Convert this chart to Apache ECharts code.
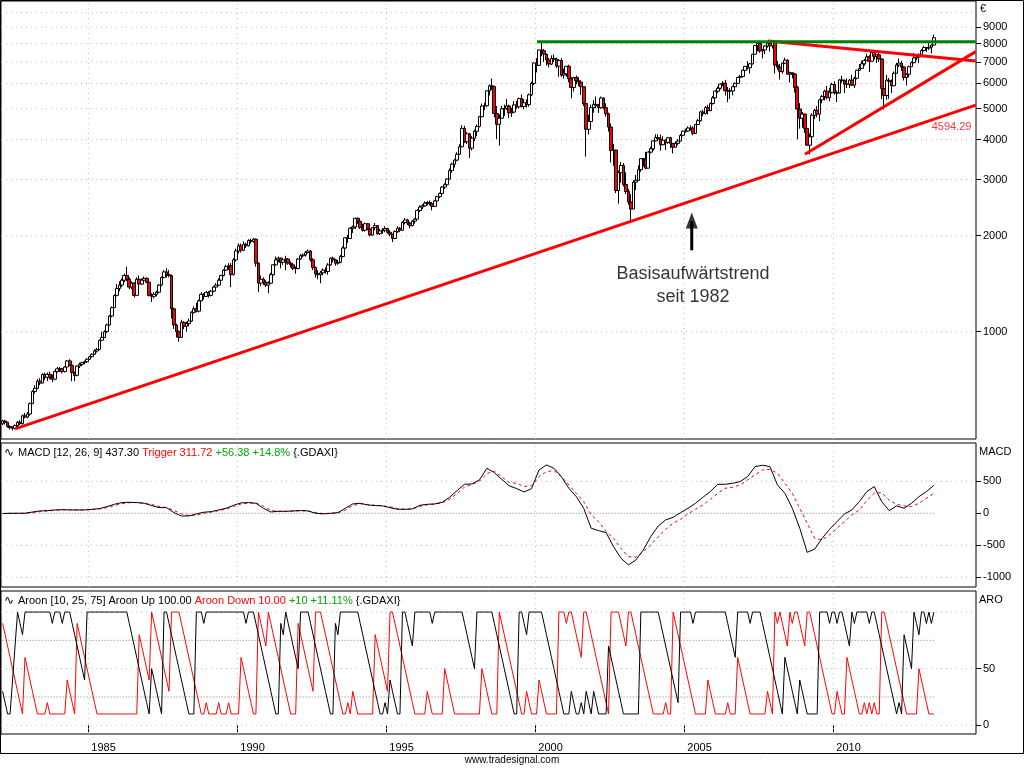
<!DOCTYPE html>
<html><head><meta charset="utf-8">
<script src="https://cdn.jsdelivr.net/npm/echarts@6/dist/echarts.min.js"></script>
<style>html,body{margin:0;padding:0;background:#fff}#c{width:1024px;height:768px}</style>
</head><body><div id="c"></div>
<script>
// ---------- DATA (monthly bars, first bar = Feb 1982) ----------
const startYear = 1982, startMonth = 2;
const firstOpen = 515;
const closes = [
525,520,505,500,498,508,520,515,545,540,552,
595,650,665,700,690,735,720,735,720,710,750,765,
765,750,775,810,785,745,730,780,790,800,805,820,
835,850,870,880,940,960,1000,1050,1120,1190,1300,1366,
1400,1450,1500,1460,1380,1420,1300,1460,1410,1450,1470,1430,
1300,1290,1310,1330,1400,1480,1540,1510,1500,1180,1050,1000,
960,1070,1040,1060,1080,1150,1180,1160,1250,1310,1290,1328,
1300,1340,1380,1400,1450,1500,1560,1600,1610,1510,1680,1790,
1860,1800,1880,1860,1930,1920,1950,1640,1420,1460,1430,1400,
1420,1510,1620,1680,1700,1650,1680,1690,1640,1620,1580,1578,
1690,1730,1740,1770,1790,1680,1590,1520,1510,1530,1560,1545,
1620,1700,1680,1640,1650,1720,1830,1970,1960,2110,2130,2267,
2220,2120,2080,2180,2100,2010,2120,2150,2030,2070,2080,2107,
2050,2020,1960,2060,2110,2080,2200,2240,2190,2150,2220,2254,
2400,2460,2480,2530,2540,2520,2470,2570,2650,2710,2840,2889,
3010,3200,3350,3450,3600,3800,4340,3940,4170,3760,4040,4250,
4400,4720,5100,5110,5690,5900,5870,4830,4470,4670,5000,5002,
5100,4850,4880,5140,5070,5380,5080,5220,5150,5530,6000,6958,
6840,7640,7600,7410,7110,6900,7190,7150,6800,7080,6370,6434,
6795,6210,5830,6260,6120,6060,5860,5190,4310,4560,5040,5160,
5110,5040,5400,5040,4820,4380,3700,3710,2770,3150,3320,2893,
2750,2550,2424,2942,2982,3221,3487,3485,3257,3655,3745,3965,
4060,4018,3857,3985,3921,4052,3895,3786,3893,3960,4126,4256,
4255,4350,4349,4185,4460,4586,4886,4829,5044,4929,5193,5408,
5674,5796,5970,6009,5692,5683,5682,5860,6004,6268,6309,6597,
6789,6716,6917,7409,7884,8007,7584,7638,7862,8019,7871,8067,
6851,6748,6535,6949,7097,6418,6479,6422,5831,4988,4669,4810,
4338,3843,4085,4770,4941,4809,5332,5458,5675,5415,5625,5957,
5608,5598,6154,6136,5965,5966,6148,5925,6229,6601,6688,6914,
7077,7273,7041,7514,7294,7376,7159,5785,5502,6141,6089,5898,
6458,6856,6947,6761,6264,6416,6772,6970,7216,7260,7405,7612,
7776,7741,7795,7914,8348];
const highs = [
530,530,522,508,505,512,525,528,550,556,560,
600,655,680,710,715,740,745,745,750,735,755,775,
775,770,780,815,820,790,750,785,800,805,812,825,
840,855,880,890,945,1000,1010,1060,1130,1200,1310,1410,
1440,1470,1520,1600,1480,1440,1430,1480,1500,1470,1490,1480,
1440,1320,1330,1345,1410,1490,1560,1580,1560,1510,1190,1060,
1010,1090,1080,1075,1100,1160,1200,1230,1260,1330,1320,1340,
1340,1350,1390,1420,1470,1510,1570,1620,1640,1640,1700,1820,
1890,1890,1920,1900,1950,1960,1966,1960,1650,1500,1480,1450,
1440,1530,1630,1720,1720,1710,1700,1730,1700,1660,1640,1600,
1700,1750,1760,1790,1810,1800,1700,1600,1560,1550,1580,1590,
1640,1710,1720,1690,1680,1740,1850,1980,2010,2130,2150,2280,
2280,2230,2180,2200,2190,2110,2130,2190,2150,2100,2110,2140,
2120,2080,2030,2080,2140,2130,2220,2270,2260,2210,2240,2270,
2420,2490,2510,2560,2570,2580,2540,2590,2670,2730,2860,2920,
3030,3250,3390,3480,3650,3870,4440,4420,4220,4200,4100,4300,
4460,4750,5190,5220,5720,5960,6220,5900,5100,4800,5100,5150,
5360,5150,5030,5280,5290,5420,5540,5360,5350,5580,6070,6990,
7200,7680,8136,7700,7450,7220,7350,7400,7230,7150,7200,6670,
6800,6870,6280,6300,6350,6280,6080,5870,5260,4790,5150,5320,
5460,5180,5460,5420,5200,4860,4500,3880,3720,3200,3400,3380,
3160,2800,2700,2980,3100,3320,3490,3500,3660,3680,3800,3990,
4160,4160,4150,4100,4010,4080,4080,3900,3950,4020,4170,4270,
4330,4400,4430,4400,4480,4650,4920,4960,5100,5140,5230,5480,
5720,5870,6000,6100,6160,5850,5800,5900,6040,6290,6380,6630,
6810,7040,6940,7410,7900,8090,8150,7700,7900,8030,8030,8100,
8100,7060,6910,6960,7230,7150,6540,6500,6480,5900,5210,4880,
4830,4600,4180,4840,5000,5100,5360,5520,5740,5890,5820,6030,
6100,5700,6200,6340,6170,6220,6200,6390,6300,6620,6900,7080,
7160,7440,7360,7530,7600,7400,7500,7190,5900,6380,6240,6170,
6540,6960,7190,7060,6800,6460,6830,7030,7480,7400,7440,7680,
7870,7810,8060,7940,8530];
const lows = [
510,512,500,494,490,495,500,510,512,535,535,
545,595,640,660,680,690,705,700,710,695,705,745,
748,740,745,770,780,700,700,725,770,780,790,798,
815,830,845,860,875,935,955,990,1045,1110,1185,1290,
1340,1380,1430,1440,1360,1360,1280,1300,1390,1400,1440,1420,
1290,1240,1270,1290,1320,1390,1470,1480,1480,1100,1020,960,
930,955,1020,1000,1040,1075,1140,1150,1150,1245,1260,1285,
1280,1290,1330,1370,1390,1440,1490,1550,1560,1380,1500,1660,
1760,1770,1790,1830,1850,1890,1900,1600,1330,1390,1400,1380,
1320,1410,1500,1610,1650,1580,1620,1560,1620,1590,1560,1520,
1570,1680,1710,1720,1760,1660,1560,1480,1460,1420,1500,1520,
1510,1610,1650,1610,1620,1640,1710,1820,1900,1950,2040,2100,
2180,2100,2060,2060,2080,1990,2000,2080,2010,2010,2030,2050,
2030,1990,1910,1950,2040,2050,2070,2170,2160,2110,2140,2180,
2250,2370,2420,2460,2490,2490,2400,2460,2560,2620,2700,2800,
2860,3000,3150,3270,3420,3580,3780,3900,3880,3500,3700,3960,
4100,4370,4700,4950,5070,5500,5720,4700,4020,3830,4650,4750,
4960,4680,4710,4850,5000,5010,5050,4980,5040,5070,5480,5930,
6500,6800,7300,7000,6830,6740,6850,7000,6700,6300,6300,6210,
6300,6050,5390,5660,5960,5880,5520,5100,3540,4150,4460,4860,
5020,4850,5000,4980,4720,4240,3390,3310,2720,2520,2930,2850,
2700,2500,2189,2420,2780,2970,3170,3290,3230,3250,3620,3700,
3950,3960,3690,3840,3710,3880,3760,3620,3780,3840,3950,4100,
4200,4230,4270,4130,4170,4450,4560,4740,4800,4800,4920,5150,
5400,5600,5740,5880,5500,5240,5360,5510,5780,5990,6150,6260,
6530,6630,6440,6870,7380,7560,7490,7190,7420,7770,7560,7720,
6440,6620,6170,6440,6900,6390,6040,6220,5620,4010,4330,4360,
4200,3830,3590,4010,4640,4700,4570,5200,5310,5350,5280,5580,
5540,5250,5590,6040,5600,5800,5800,5890,5810,6180,6570,6680,
6820,7060,6510,7040,7120,6960,7000,5360,4970,5330,5370,5600,
5890,6440,6750,6570,6130,5910,6270,6770,6940,7090,6950,7390,
7560,7530,7640,7460,7900];

// MACD read every 3rd monthly bar
const macdStep = 3;
const macdValues = [-5,0,0,0,20,36,42,52,57,52,52,52,62,73,104,140,167,172,167,156,120,88,88,
10,-42,-42,-10,16,26,52,78,125,162,167,156,78,20,31,31,36,42,36,0,-10,0,10,78,146,156,130,120,115,88,62,62,68,125,140,146,172,250,354,453,458,521,703,635,531,430,
385,333,385,677,755,703,573,391,260,78,-234,-271,-302,-521,-703,-807,-729,-573,-365,-198,-104,-63,10,78,156,250,339,453,453,469,495,573,729,750,729,443,313,78,-234,-610,-560,-391,-250,-130,-10,52,182,339,417,182,42,115,78,156,260,339,437];
const triggerValues = [-5,-3,0,0,10,25,35,45,52,54,52,52,56,66,88,120,150,165,168,160,138,105,90,45,-10,-35,-30,0,18,40,65,105,145,160,160,110,45,30,30,34,40,38,12,-5,-5,5,50,120,148,138,125,118,100,75,64,66,105,132,143,162,220,310,410,450,500,620,660,570,480,
469,417,430,573,651,667,573,443,313,182,-26,-130,-287,-391,-547,-677,-687,-599,-495,-365,-250,-156,-94,-10,62,130,219,313,391,406,443,521,599,677,687,625,469,313,78,-156,-391,-417,-339,-234,-130,-26,52,198,313,323,208,140,115,104,156,234,312];

// Aroon (one value per monthly bar)
const aroonUp = [
30,20,10,10,40,70,100,90,80,100,100,100,100,
100,100,100,100,100,100,100,90,100,100,100,90,100,100,100,
90,80,70,60,50,40,
100,100,100,100,100,100,100,100,100,100,100,100,100,100,100,100,100,
90,80,70,60,50,40,30,20,10,50,40,30,20,10,100,100,
90,80,70,60,50,40,30,20,10,10,10,100,100,100,90,
100,100,100,100,100,100,100,100,100,100,100,100,100,100,100,100,
90,100,100,100,90,80,70,60,50,40,30,20,10,10,90,80,100,
90,80,70,60,50,100,100,100,100,90,80,70,60,50,40,30,20,10,10,90,80,
100,100,100,100,100,100,100,100,90,80,70,60,50,40,30,20,10,10,
20,10,40,30,20,10,10,100,100,90,80,70,100,100,100,100,100,100,100,90,
100,100,100,100,100,100,100,100,100,100,100,100,90,80,70,60,50,
100,100,100,100,100,100,100,90,80,70,60,50,40,30,20,10,10,100,100,90,80,
100,100,100,100,100,100,90,80,70,60,50,40,30,20,10,10,10,
30,20,10,10,20,10,30,20,10,30,20,10,10,10,10,
70,60,50,40,30,20,10,10,10,10,10,10,10,
100,100,100,100,100,100,100,100,90,80,70,60,50,40,30,20,
100,100,100,100,100,90,100,100,100,100,100,100,100,100,100,100,100,100,100,
90,80,70,60,100,100,100,100,100,90,100,100,100,100,
90,80,70,60,50,40,30,20,10,60,50,40,30,20,10,40,30,20,10,10,10,10,10,
100,100,100,100,90,100,100,90,100,100,90,80,70,100,90,100,100,100,100,100,90,100,100,
90,80,70,60,50,40,30,20,10,20,10,80,70,60,50,100,90,80,100,100,90,100,90,100];
const aroonDown = [
90,80,70,60,50,40,30,20,10,60,50,40,30,20,10,
10,10,10,20,10,10,10,10,10,10,10,40,30,20,10,
90,80,70,60,50,40,30,20,10,
10,10,10,10,10,10,10,10,10,10,10,10,10,10,10,10,
80,70,60,50,40,100,90,80,70,60,50,40,30,100,100,100,100,
90,80,70,60,50,40,30,20,10,10,20,10,10,10,10,20,10,10,10,20,10,10,10,10,
60,50,40,30,20,10,10,100,90,80,70,100,90,80,70,60,50,40,30,20,10,10,10,
90,80,70,60,50,40,30,100,100,100,90,80,70,60,50,40,30,20,10,10,20,10,30,20,10,
10,10,10,10,10,10,80,70,60,50,40,30,100,100,90,80,70,60,50,40,30,20,10,
10,10,10,10,30,20,10,10,10,10,10,50,40,30,20,10,
10,10,10,10,10,10,10,10,10,10,50,40,30,20,10,10,10,
100,90,80,70,60,50,40,30,20,10,10,30,20,10,10,10,40,30,20,10,10,10,10,10,
100,100,100,90,100,100,90,80,70,60,100,100,90,80,70,60,50,40,30,20,10,
100,100,100,100,90,80,70,100,100,90,80,70,60,50,40,30,20,10,
10,10,10,10,20,10,10,100,90,80,70,60,50,40,30,20,10,
10,10,10,10,40,30,20,10,10,10,10,10,20,10,10,10,60,50,40,30,20,10,
10,10,10,10,10,10,30,20,10,100,90,100,90,80,70,100,90,100,100,90,80,70,100,100,
90,80,70,60,50,40,30,20,10,10,30,20,10,10,60,50,40,30,20,10,10,20,10,20,10,20,10,10,
100,100,90,80,70,60,50,40,30,20,10,10,10,10,10,50,40,30,20,10,10,10];

// ticks / levels
const priceTicks = [1000,2000,3000,4000,5000,6000,7000,8000,9000];
const priceGrid = [1000,2000,3000,4000,5000,6000,7000,8000,9000,10000];
const macdTicks = [-1000,-500,0,500];
const macdGrid = [-1000,-500,500];
const aroonTicks = [0,50];
const aroonGrid = [0,50,100];
const aroonLevels = [25,75];
const yearTicks = [1985,1990,1995,2000,2005,2010];

// drawn lines (date, price)
const baseTrend = [[1982.54,496],[2014.78,5130]];
const supportTrend = [[2009.05,3598],[2014.78,7548]];
const resistTrend = [[2007.81,8152],[2014.78,7057]];
const topLine = [[2000.06,8111],[2014.78,8111]];
const trendValueLabel = {t:2013.97, v:4383, text:'4594.29'};
const noteText = {t:2005.29, v:1396, text:'Basisaufwärtstrend\nseit 1982'};
const arrowPts = {t:2005.25, from:1801, to:2225, head:2232};

// ---------- BUILD ----------
const FONT = '"Liberation Sans", Arial, sans-serif';
const X_MIN = 1982.07, X_MAX = 2014.789;
const Y0 = [461, 10880], Y1 = [-1152, 1098], Y2 = [-7.7, 118.6];
const monthT = i => startYear + (startMonth - 1 + i) / 12 + 1 / 24;
if (highs.length !== closes.length || lows.length !== closes.length) throw new Error('len ' + closes.length + ' ' + highs.length + ' ' + lows.length);
if (macdValues.length !== triggerValues.length) throw new Error('macd len ' + macdValues.length + ' ' + triggerValues.length);
if (aroonUp.length !== closes.length || aroonDown.length !== closes.length) throw new Error('aroon len ' + aroonUp.length + ' ' + aroonDown.length);

const candles = closes.map((c, i) => [monthT(i), i ? closes[i - 1] : firstOpen, c, lows[i], highs[i]]);
const lastT = monthT(closes.length - 1), firstT = monthT(0);

const gridStyle = {color: '#bdbdbd', width: 1, type: [1, 4]};
const levelStyle = {color: '#808080', width: 1, type: [1, 2]};
const series = [];
function seg(g, pts, style, z) {
  series.push({type: 'line', xAxisIndex: g, yAxisIndex: g, data: pts, symbol: 'none', silent: true,
    lineStyle: style, z: z || 1, animation: false});
}
priceGrid.forEach(v => seg(0, [[X_MIN, v], [X_MAX, v]], gridStyle));
macdGrid.forEach(v => seg(1, [[X_MIN, v], [X_MAX, v]], gridStyle));
aroonGrid.forEach(v => seg(2, [[X_MIN, v], [X_MAX, v]], gridStyle));
yearTicks.forEach(y => {
  seg(0, [[y, Y0[0]], [y, Y0[1]]], gridStyle);
  seg(1, [[y, Y1[0]], [y, Y1[1]]], gridStyle);
  seg(2, [[y, Y2[0]], [y, Y2[1]]], gridStyle);
});
seg(1, [[firstT, 0], [lastT, 0]], levelStyle);
aroonLevels.forEach(v => seg(2, [[firstT, v], [lastT, v]], levelStyle));

series.push({type: 'candlestick', xAxisIndex: 0, yAxisIndex: 0, data: candles, barWidth: 3.2, z: 3,
  itemStyle: {color: '#ffffff', color0: '#ff0000', borderColor: '#000', borderColor0: '#000', borderWidth: 1}, silent: true});

const red3 = {color: '#ff0000', width: 3};
seg(0, baseTrend, red3, 5);
seg(0, supportTrend, red3, 5);
seg(0, resistTrend, red3, 5);
seg(0, topLine, {color: '#008000', width: 3}, 5);

// arrow
seg(0, [[arrowPts.t, arrowPts.from], [arrowPts.t, arrowPts.to]], {color: '#000', width: 3}, 6);
series.push({type: 'scatter', xAxisIndex: 0, yAxisIndex: 0, data: [[arrowPts.t, arrowPts.head]], symbol: 'triangle',
  symbolSize: [12, 16], itemStyle: {color: '#000'}, z: 6, silent: true});
// texts anchored to data
series.push({type: 'scatter', xAxisIndex: 0, yAxisIndex: 0, data: [[noteText.t, noteText.v]], symbolSize: 0, silent: true, z: 6,
  label: {show: true, position: 'inside', formatter: noteText.text, fontSize: 18, lineHeight: 23, color: '#000', fontFamily: FONT, align: 'center'}});
series.push({type: 'scatter', xAxisIndex: 0, yAxisIndex: 0, data: [[trendValueLabel.t, trendValueLabel.v]], symbolSize: 0, silent: true, z: 6,
  label: {show: true, position: 'inside', formatter: trendValueLabel.text, fontSize: 11, color: '#ff0000', fontFamily: FONT}});

// MACD
series.push({type: 'line', xAxisIndex: 1, yAxisIndex: 1, symbol: 'none', silent: true, z: 4,
  data: triggerValues.map((v, j) => [monthT(j * macdStep), v]), lineStyle: {color: '#ff0000', width: 1, type: [3, 3]}});
series.push({type: 'line', xAxisIndex: 1, yAxisIndex: 1, symbol: 'none', silent: true, z: 5,
  data: macdValues.map((v, j) => [monthT(j * macdStep), v]), lineStyle: {color: '#000', width: 1}});
// Aroon
series.push({type: 'line', xAxisIndex: 2, yAxisIndex: 2, symbol: 'none', silent: true, z: 4,
  data: aroonDown.map((v, i) => [monthT(i), v]), lineStyle: {color: '#ff0000', width: 1}});
series.push({type: 'line', xAxisIndex: 2, yAxisIndex: 2, symbol: 'none', silent: true, z: 5,
  data: aroonUp.map((v, i) => [monthT(i), v]), lineStyle: {color: '#000', width: 1}});

const lbl = {color: '#000', fontSize: 11, fontFamily: FONT};
function yAx(g, type, ext, ticks) {
  return {type: type, gridIndex: g, position: 'right', min: ext[0], max: ext[1],
    axisLine: {show: false}, splitLine: {show: false},
    axisTick: {show: true, length: 5, lineStyle: {color: '#000'}, customValues: ticks},
    axisLabel: Object.assign({customValues: ticks, margin: 7, formatter: v => String(Math.round(v))}, lbl)};
}
const option = {
  animation: false,
  grid: [
    {left: 1, top: 1, right: 48, height: 438, show: true, borderColor: '#000', borderWidth: 1},
    {left: 1, top: 443, right: 48, height: 144, show: true, borderColor: '#000', borderWidth: 1},
    {left: 1, top: 591, right: 48, height: 143, show: true, borderColor: '#000', borderWidth: 1}
  ],
  xAxis: [0, 1, 2].map(g => ({
    type: 'value', gridIndex: g, min: X_MIN, max: X_MAX, show: g === 2,
    axisLine: {show: false}, splitLine: {show: false},
    axisTick: {show: true, length: 7, lineStyle: {color: '#000'}, customValues: yearTicks},
    axisLabel: Object.assign({customValues: yearTicks, margin: 8, align: 'left', padding: [0, 0, 0, 3], formatter: v => String(Math.round(v))}, lbl)
  })),
  yAxis: [yAx(0, 'log', Y0, priceTicks), yAx(1, 'value', Y1, macdTicks), yAx(2, 'value', Y2, aroonTicks)],
  series: series,
  graphic: [
    {type: 'rect', silent: true, z: 100, shape: {x: 0.5, y: 0.5, width: 1023, height: 753}, style: {fill: null, stroke: '#000', lineWidth: 1}},
    {type: 'text', x: 980, y: 8.5, style: {text: '€', verticalAlign: 'middle', fill: '#000', fontSize: 11, fontFamily: FONT}},
    {type: 'text', x: 979, y: 451.5, style: {text: 'MACD', verticalAlign: 'middle', fill: '#000', fontSize: 11, fontFamily: FONT}},
    {type: 'text', x: 979, y: 599.5, style: {text: 'ARO', verticalAlign: 'middle', fill: '#000', fontSize: 11, fontFamily: FONT}},
    {type: 'text', x: 4, y: 452.5, style: {text: '∿', verticalAlign: 'middle', fill: '#000', fontSize: 12, fontFamily: 'DejaVu Sans'}},
    {type: 'text', x: 4, y: 600.5, style: {text: '∿', verticalAlign: 'middle', fill: '#000', fontSize: 12, fontFamily: 'DejaVu Sans'}},
    {type: 'text', x: 18, y: 452.5, style: {text: '{k|MACD [12, 26, 9] 437.30 }{r|Trigger 311.72 }{g|+56.38 +14.8% }{.GDAXI}',
      verticalAlign: 'middle', fill: '#000', fontSize: 11, fontFamily: FONT,
      rich: {k: {fill: '#000', fontSize: 11, fontFamily: FONT}, r: {fill: '#ff0000', fontSize: 11, fontFamily: FONT}, g: {fill: '#00a800', fontSize: 11, fontFamily: FONT}}}},
    {type: 'text', x: 18, y: 600.5, style: {text: '{k|Aroon [10, 25, 75] Aroon Up 100.00 }{r|Aroon Down 10.00 }{g|+10 +11.11% }{.GDAXI}',
      verticalAlign: 'middle', fill: '#000', fontSize: 11, fontFamily: FONT,
      rich: {k: {fill: '#000', fontSize: 11, fontFamily: FONT}, r: {fill: '#ff0000', fontSize: 11, fontFamily: FONT}, g: {fill: '#00a800', fontSize: 11, fontFamily: FONT}}}},
    {type: 'text', x: 512, y: 760, style: {text: 'www.tradesignal.com', align: 'center', verticalAlign: 'middle', fill: '#000', fontSize: 10, fontFamily: FONT}}
  ]
};
const chart = echarts.init(document.getElementById('c'), null, {renderer: 'canvas'});
chart.setOption(option);
</script></body></html>
